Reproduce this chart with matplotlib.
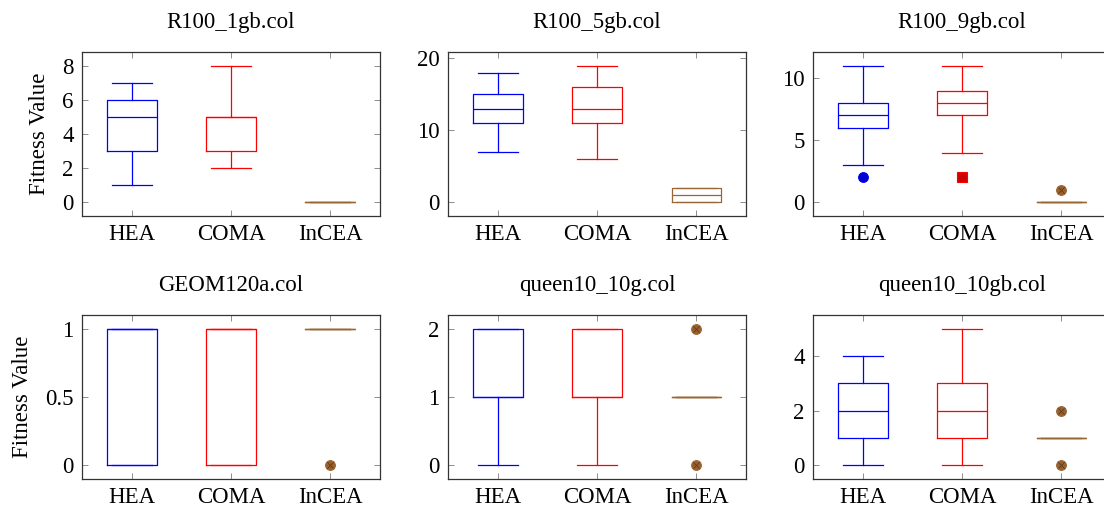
import matplotlib
matplotlib.use("Agg")
import matplotlib.pyplot as plt

plt.rcParams["font.family"] = ["Liberation Serif", "DejaVu Serif"]

datasets = ["R100_1gb.col", "R100_5gb.col", "R100_9gb.col",
            "GEOM120a.col", "queen10_10g.col", "queen10_10gb.col"]
algorithms = ["HEA", "COMA", "InCEA"]

# five number summaries: [whisker low, q1, median, q3, whisker high]
hea_summary = [[1, 3, 5, 6, 7], [7, 11, 13, 15, 18], [3, 6, 7, 8, 11],
               [0, 0, 1, 1, 1], [0, 1, 1, 2, 2], [0, 1, 2, 3, 4]]
coma_summary = [[2, 3, 5, 5, 8], [6, 11, 13, 16, 19], [4, 7, 8, 9, 11],
                [0, 0, 1, 1, 1], [0, 1, 1, 2, 2], [0, 1, 2, 3, 5]]
incea_summary = [[0, 0, 0, 0, 0], [0, 0, 1, 2, 2], [0, 0, 0, 0, 0],
                 [1, 1, 1, 1, 1], [1, 1, 1, 1, 1], [1, 1, 1, 1, 1]]

hea_outliers = [[], [], [2], [], [], []]
coma_outliers = [[], [], [2], [], [], []]
incea_outliers = [[], [], [1], [0], [0, 2], [0, 2]]

y_ticks = [[0, 2, 4, 6, 8], [0, 10, 20], [0, 5, 10],
           [0, 0.5, 1], [0, 1, 2], [0, 2, 4]]
y_ticklabels = [["0", "2", "4", "6", "8"], ["0", "10", "20"], ["0", "5", "10"],
                ["0", "0.5", "1"], ["0", "1", "2"], ["0", "2", "4"]]

line_colors = ["blue", "red", "#9a6633"]
mark_fill = ["#0000cc", "#cc0000", "#99602e"]
mark_shape = ["o", "s", "o"]

W, H = 1104, 508
fig = plt.figure(figsize=(W / 100, H / 100), dpi=100)

lefts = [82, 448, 813]
tops = [52, 315]
aw, ah = 298, 164


def to_stats(summary):
    lo, q1, med, q3, hi = summary
    return dict(whislo=lo, q1=q1, med=med, q3=q3, whishi=hi, fliers=[])


for i, name in enumerate(datasets):
    row, col = divmod(i, 3)
    ax = fig.add_axes([lefts[col] / W, 1 - (tops[row] + ah) / H, aw / W, ah / H])

    summaries = [hea_summary[i], coma_summary[i], incea_summary[i]]
    outliers = [hea_outliers[i], coma_outliers[i], incea_outliers[i]]

    for k in range(3):
        parts = ax.bxp([to_stats(summaries[k])], positions=[k + 1], widths=0.5,
                       capwidths=0.4, showfliers=False, manage_ticks=False)
        for key in ["boxes", "medians", "whiskers", "caps"]:
            for a in parts[key]:
                a.set_color(line_colors[k])
                a.set_linewidth(0.9)
        if outliers[k]:
            xs = [k + 1] * len(outliers[k])
            ax.plot(xs, outliers[k], linestyle="none", marker=mark_shape[k],
                    markersize=7, markerfacecolor=mark_fill[k],
                    markeredgecolor=line_colors[k], markeredgewidth=0.8, zorder=4)
            if k == 2:
                # otimes style mark
                ax.plot(xs, outliers[k], linestyle="none", marker="x",
                        markersize=5, markeredgecolor="#5e3d1c",
                        markeredgewidth=0.6, zorder=5)

    # pgfplots style 10% enlargement of y limits
    vals = [v for s in summaries for v in s] + [v for o in outliers for v in o]
    lo, hi = min(vals), max(vals)
    pad = 0.1 * (hi - lo)
    ax.set_ylim(lo - pad, hi + pad)
    ax.set_xlim(0.5, 3.5)

    ax.set_xticks([1, 2, 3])
    ax.set_xticklabels(algorithms)
    ax.set_yticks(y_ticks[i])
    ax.set_yticklabels(y_ticklabels[i])
    ax.tick_params(direction="in", length=4.5, width=0.7, color="0.55",
                   top=True, right=True, labelsize=16.5, pad=6)
    for s in ax.spines.values():
        s.set_linewidth(0.9)
        s.set_color("#333333")

    ax.set_title(name, fontsize=16.5, pad=17)
    if col == 0:
        ax.set_ylabel("Fitness Value", fontsize=16.5, labelpad=9)

fig.savefig("out.png", dpi=100)
